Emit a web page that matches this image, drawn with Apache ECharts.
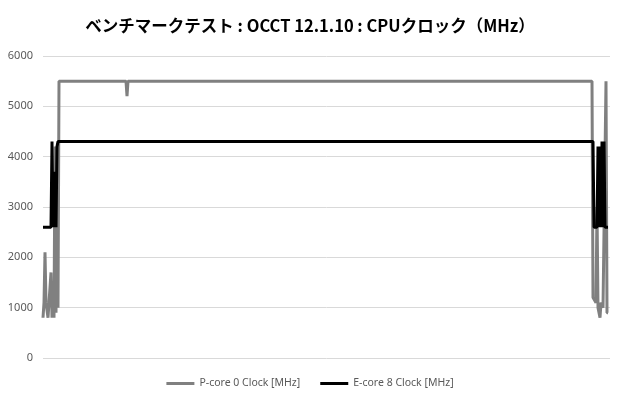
<!DOCTYPE html>
<html>
<head>
<meta charset="utf-8">
<script src="https://cdn.jsdelivr.net/npm/echarts@6/dist/echarts.min.js"></script>
<style>
  html, body { margin: 0; padding: 0; background: #fff; }
  #main { width: 620px; height: 400px; }
</style>
</head>
<body>
<div id="main"></div>
<script>
// サンプル番号（横軸）と各コアのクロック値
const pIdx = [0, 1, 2, 3, 4, 5, 6, 7, 8, 9, 10, 11, 12, 13, 14, 15, 16, 83, 84, 85, 549, 550, 553, 554, 555, 557, 558, 560, 563, 564, 565];
const pVal = [800, 1100, 2100, 1100, 1100, 800, 1100, 1100, 1700, 800, 1100, 800, 4200, 900, 3800, 1000, 5500, 5500, 5200, 5500, 5500, 1200, 1100, 3000, 1000, 800, 1100, 1000, 5500, 900, 900];

const eIdx = [0, 8, 9, 10, 11, 12, 13, 14, 15, 550, 551, 554, 555, 556, 557, 558, 559, 560, 561, 562, 565];
const eVal = [2600, 2600, 4300, 2600, 2600, 3700, 2600, 4200, 4300, 4300, 2600, 2600, 4200, 2600, 4200, 2600, 4300, 2600, 4300, 2600, 2600];

const yTicks = [0, 1000, 2000, 3000, 4000, 5000, 6000];
const seriesNames = ['P-core 0 Clock [MHz]', 'E-core 8 Clock [MHz]'];

// [x, y] の組を作る
function toPairs(idx, val) {
    return idx.map(function (x, i) { return [x, val[i]]; });
}

var myChart = echarts.init(document.getElementById('main'));

var option = {
    title: {
        text: 'ベンチマークテスト : OCCT 12.1.10 : CPUクロック（MHz）',
        left: 'center',
        top: 12,
        textStyle: {
            fontFamily: 'Noto Sans CJK JP',
            fontSize: 16.5,
            fontWeight: 'bold',
            color: '#000'
        }
    },
    legend: {
        bottom: 6,
        left: 'center',
        icon: 'rect',
        itemWidth: 28,
        itemHeight: 3,
        itemGap: 20,
        textStyle: {
            fontFamily: 'Noto Sans',
            fontSize: 10.5,
            color: '#595959'
        },
        data: seriesNames
    },
    grid: {
        left: 43,
        right: 10,
        top: 56,
        bottom: 42
    },
    xAxis: {
        type: 'value',
        min: 0,
        max: 567,
        show: false
    },
    yAxis: {
        type: 'value',
        min: yTicks[0],
        max: yTicks[yTicks.length - 1],
        interval: 1000,
        axisLine: { show: false },
        axisTick: { show: false },
        axisLabel: {
            margin: 10,
            fontFamily: 'Noto Sans',
            fontSize: 11,
            color: '#595959',
            formatter: function (v) { return String(v); }
        },
        splitLine: {
            lineStyle: { color: '#d9d9d9', width: 1 }
        }
    },
    series: [
        {
            name: seriesNames[0],
            type: 'line',
            data: toPairs(pIdx, pVal),
            showSymbol: false,
            symbol: 'none',
            color: '#808080',
            lineStyle: { color: '#808080', width: 3 },
            z: 2
        },
        {
            name: seriesNames[1],
            type: 'line',
            data: toPairs(eIdx, eVal),
            showSymbol: false,
            symbol: 'none',
            color: '#000000',
            lineStyle: { color: '#000000', width: 3 },
            z: 3
        }
    ],
    animation: false
};

myChart.setOption(option);
</script>
</body>
</html>
